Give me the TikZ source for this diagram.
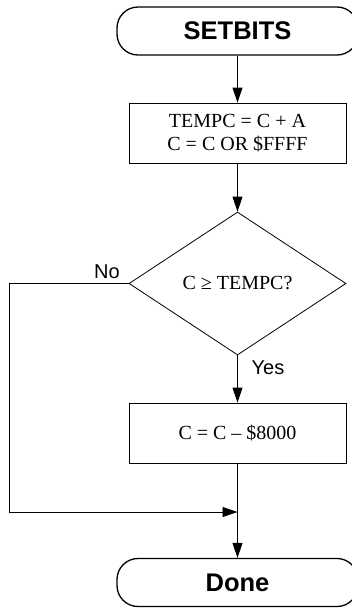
\documentclass[tikz,border=0pt]{standalone}
\usepackage{fontspec}
\setmainfont{Liberation Serif}
\setsansfont{Liberation Sans}
\usetikzlibrary{shapes.geometric,arrows.meta}
\begin{document}
\begin{tikzpicture}[x=1pt,y=-1pt,
  term/.style={draw,line width=1.3pt,rounded corners=21pt,minimum width=241pt,minimum height=48pt,inner sep=0pt,
    font=\sffamily\bfseries\fontsize{25.5pt}{28pt}\selectfont},
  procbox/.style={draw,line width=0.9pt,minimum width=217pt,minimum height=60pt,inner sep=0pt,align=center,
    font=\fontsize{20pt}{23pt}\selectfont},
  decision/.style={draw,line width=0.8pt,diamond,aspect=1.52,minimum width=217pt,minimum height=143pt,inner sep=0pt,
    font=\fontsize{20pt}{23pt}\selectfont},
  lbl/.style={font=\sffamily\fontsize{20pt}{23pt}\selectfont,inner sep=0pt},
  flow/.style={line width=0.9pt,-{Triangle[length=15pt,width=10pt]}},
  plain/.style={line width=0.9pt}]
\useasboundingbox (0,0) rectangle (352,611);
\node[term] (start) at (237.5,31) {SETBITS};
\node[procbox] (b1) at (237.5,133) {TEMPC = C + A\\C = C OR \$FFFF};
\node[decision] (dec) at (237.5,283.5) {C ≥ TEMPC?};
\node[procbox] (b2) at (237.5,433) {C = C – \$8000};
\node[term] (done) at (237.5,582.5) {Done};
\coordinate (nl) at (9,283.5);
\coordinate (nb) at (9,512);
\coordinate (join) at (237.5,512);
\node[lbl] (no) at (107,272) {No};
\node[lbl] (yes) at (268,368) {Yes};
\draw[flow] (start.south) -- (b1.north);
\draw[flow] (b1.south) -- (dec.north);
\draw[flow] (dec.south) -- (b2.north);
\draw[flow] (b2.south) -- (done.north);
\draw[flow] (dec.west) -- (nl) -- (nb) -- (join);
\end{tikzpicture}
\end{document}
